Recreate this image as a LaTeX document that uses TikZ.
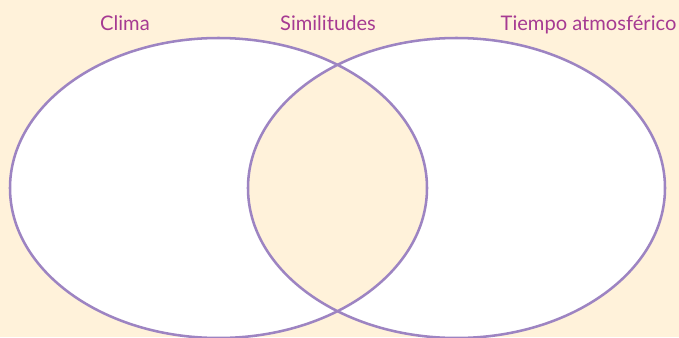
\documentclass[tikz,border=0pt]{standalone}
\usepackage{fontspec}
\setmainfont{Lato}
\usepackage{tikz}
\definecolor{vennbg}{HTML}{FFF2DA}
\definecolor{vennline}{HTML}{9D84C2}
\definecolor{venntext}{HTML}{A63A92}

\begin{document}
\begin{tikzpicture}[x=0.025cm,y=-0.025cm,
  lbl/.style={anchor=base,text=venntext,font=\fontsize{14.3}{16}\selectfont,inner sep=0pt},
  ring/.style={vennline,line width=1.8pt}]
  \useasboundingbox[fill=vennbg] (0,0) rectangle (679,337);
  \coordinate (lc) at (218.5,188);
  \coordinate (rc) at (456.5,188);
  \fill[white] (lc) ellipse[x radius=208.5,y radius=150];
  \fill[white] (rc) ellipse[x radius=208.5,y radius=150];
  \begin{scope}
    \clip (lc) ellipse[x radius=208.5,y radius=150];
    \fill[vennbg] (rc) ellipse[x radius=208.5,y radius=150];
  \end{scope}
  \draw[ring] (lc) ellipse[x radius=208.5,y radius=150];
  \draw[ring] (rc) ellipse[x radius=208.5,y radius=150];
  \node[lbl] (clima) at (125,30) {Clima};
  \node[lbl] (simil) at (328,30) {Similitudes};
  \node[lbl] (tiempo) at (588.5,30) {Tiempo atmosférico};
\end{tikzpicture}
\end{document}
